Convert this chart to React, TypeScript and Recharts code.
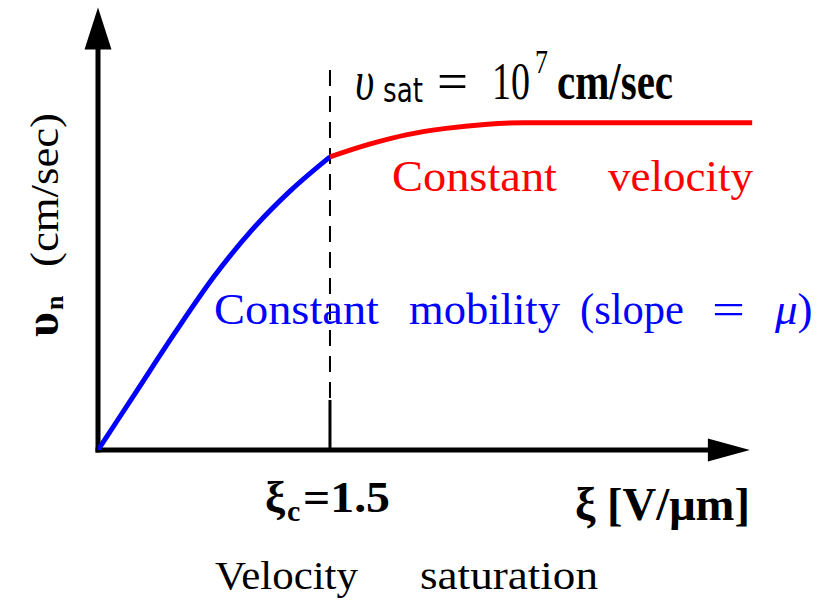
import React from 'react';
import { LineChart, Line, XAxis, YAxis, ReferenceLine, ReferenceDot } from 'recharts';

// Electric field (V/µm) and velocity (units of 10^7 cm/sec)
const blueX = [0, 0.25, 0.5, 0.75, 1.0, 1.25, 1.5];
const blueY = [0, 0.18, 0.36, 0.53, 0.675, 0.795, 0.896];
const redX = [1.5, 1.75, 2.0, 2.25, 2.5, 2.75, 4.23];
const redY = [0.896, 0.934, 0.964, 0.983, 0.995, 1.0, 1.0];
const criticalField = 1.5;
const dashTop = 1.168;
const solidTop = 0.153;
const xAxisEnd = 3.96;
const xArrowTip = 4.215;
const yAxisEnd = 1.25;
const yArrowTip = 1.352;
const xDomain = [0, 4.3];
const yDomain = [0, 1.36];

const blueData = blueX.map((x, i) => ({ x, y: blueY[i] }));
const redData = redX.map((x, i) => ({ x, y: redY[i] }));

const SERIF = '"Liberation Serif", "Times New Roman", serif';
const SANS = '"DejaVu Sans", sans-serif';

const UpArrow = (props: any) => {
  const { cx, cy } = props;
  return <polygon points={`${cx},${cy} ${cx - 13.5},${cy + 42} ${cx + 13.5},${cy + 42}`} fill="#000" />;
};
const RightArrow = (props: any) => {
  const { cx, cy } = props;
  return <polygon points={`${cx},${cy} ${cx - 42},${cy - 11.5} ${cx - 42},${cy + 11.5}`} fill="#000" />;
};

const S = (x: number, y: number) => `translate(${x},${y}) scale(1,1.3)`;

export default function App() {
  return (
    <div style={{ position: 'absolute', left: 0, top: 0, width: 817, height: 601, background: '#fff' }}>
      <LineChart width={817} height={601} margin={{ top: 5, right: 54, bottom: 151, left: 98 }}>
        <XAxis type="number" dataKey="x" domain={xDomain} hide allowDataOverflow />
        <YAxis type="number" dataKey="y" domain={yDomain} hide allowDataOverflow />
        <ReferenceLine
          segment={[{ x: criticalField, y: 0 }, { x: criticalField, y: dashTop }]}
          stroke="#000"
          strokeWidth={2}
          strokeDasharray="16 10"
          ifOverflow="visible"
        />
        <ReferenceLine
          segment={[{ x: criticalField, y: 0 }, { x: criticalField, y: solidTop }]}
          stroke="#000"
          strokeWidth={3}
          ifOverflow="visible"
        />
        <ReferenceLine
          segment={[{ x: 0, y: -0.008 }, { x: 0, y: yAxisEnd }]}
          stroke="#000"
          strokeWidth={5}
          ifOverflow="visible"
        />
        <ReferenceLine
          segment={[{ x: -0.016, y: 0 }, { x: xAxisEnd, y: 0 }]}
          stroke="#000"
          strokeWidth={5}
          ifOverflow="visible"
        />
        <ReferenceDot x={0} y={yArrowTip} r={1} shape={UpArrow} ifOverflow="visible" />
        <ReferenceDot x={xArrowTip} y={0} r={1} shape={RightArrow} ifOverflow="visible" />
        <Line data={blueData} dataKey="y" type="monotone" stroke="#0000FF" strokeWidth={5} dot={false} isAnimationActive={false} />
        <Line data={redData} dataKey="y" type="monotone" stroke="#FF0000" strokeWidth={5} dot={false} isAnimationActive={false} />
      </LineChart>
      <svg width={817} height={601} style={{ position: 'absolute', left: 0, top: 0, pointerEvents: 'none' }}>
        {/* top saturation label */}
        <text transform={S(355, 99)} fontFamily={SERIF} fontStyle="italic" fontSize={42} fill="#000">υ</text>
        <text transform={S(383, 102)} fontFamily={SANS} fontSize={26} fill="#000" textLength={40} lengthAdjust="spacingAndGlyphs">sat</text>
        <text transform={S(437, 99)} fontFamily={SERIF} fontSize={40} fill="#000" textLength={31} lengthAdjust="spacingAndGlyphs">=</text>
        <text transform={S(492, 99)} fontFamily={SERIF} fontSize={40} fill="#000" textLength={38} lengthAdjust="spacingAndGlyphs">10</text>
        <text transform={S(535, 73)} fontFamily={SERIF} fontSize={26} fill="#000">7</text>
        <text transform={S(557, 99)} fontFamily={SERIF} fontWeight="bold" fontSize={41} fill="#000" textLength={116} lengthAdjust="spacingAndGlyphs">cm/sec</text>

        {/* red annotation */}
        <text x={392} y={191} fontFamily={SERIF} fontSize={45} fill="#FF0000" textLength={165} lengthAdjust="spacingAndGlyphs">Constant</text>
        <text x={608} y={191} fontFamily={SERIF} fontSize={45} fill="#FF0000" textLength={145} lengthAdjust="spacingAndGlyphs">velocity</text>

        {/* blue annotation */}
        <text x={214} y={324} fontFamily={SERIF} fontSize={45} fill="#0000FF" textLength={165} lengthAdjust="spacingAndGlyphs">Constant</text>
        <text x={409} y={324} fontFamily={SERIF} fontSize={45} fill="#0000FF" textLength={151} lengthAdjust="spacingAndGlyphs">mobility</text>
        <text x={580} y={324} fontFamily={SERIF} fontSize={45} fill="#0000FF" textLength={104} lengthAdjust="spacingAndGlyphs">(slope</text>
        <text x={712} y={324} fontFamily={SERIF} fontSize={45} fill="#0000FF" textLength={33} lengthAdjust="spacingAndGlyphs">=</text>
        <text x={775} y={324} fontFamily={SERIF} fontSize={45} fill="#0000FF"><tspan fontStyle="italic">μ</tspan>)</text>

        {/* y label */}
        <text transform="translate(58,337) rotate(-90)" fontFamily={SERIF} fontWeight="bold" fontSize={48} fill="#000">υ</text>
        <text transform="translate(63,310) rotate(-90)" fontFamily={SERIF} fontWeight="bold" fontSize={26} fill="#000">n</text>
        <text transform="translate(58,267) rotate(-90)" fontFamily={SERIF} fontSize={40} fill="#000" textLength={154} lengthAdjust="spacingAndGlyphs">(cm/sec)</text>

        {/* x labels */}
        <text x={265} y={512} fontFamily={SERIF} fontWeight="bold" fontSize={45} fill="#000">ξ</text>
        <text x={287} y={521} fontFamily={SERIF} fontWeight="bold" fontSize={30} fill="#000">c</text>
        <text x={303} y={512} fontFamily={SERIF} fontWeight="bold" fontSize={45} fill="#000" textLength={87} lengthAdjust="spacingAndGlyphs">=1.5</text>
        <text x={575} y={520} fontFamily={SERIF} fontWeight="bold" fontSize={46} fill="#000">ξ</text>
        <text x={607} y={520} fontFamily={SERIF} fontWeight="bold" fontSize={46} fill="#000" textLength={143} lengthAdjust="spacingAndGlyphs">[V/μm]</text>

        {/* caption */}
        <text x={215} y={589} fontFamily={SERIF} fontSize={41} fill="#000" textLength={143} lengthAdjust="spacingAndGlyphs">Velocity</text>
        <text x={420} y={589} fontFamily={SERIF} fontSize={41} fill="#000" textLength={178} lengthAdjust="spacingAndGlyphs">saturation</text>
      </svg>
    </div>
  );
}
